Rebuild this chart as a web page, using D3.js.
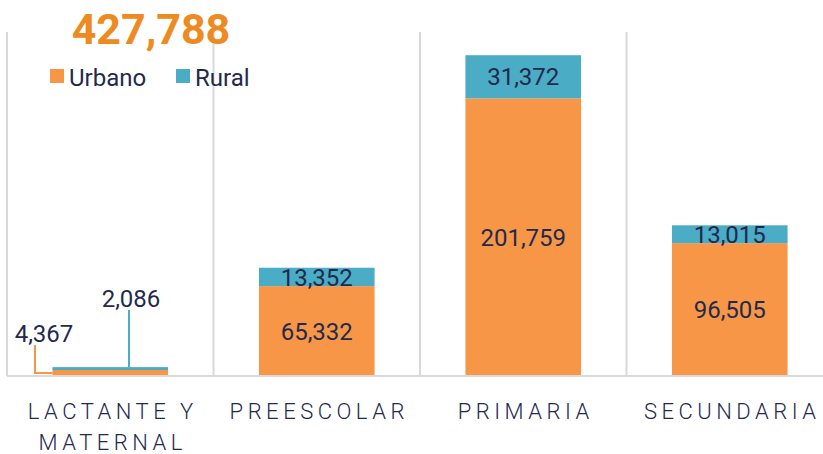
<!DOCTYPE html>
<head>
  <meta charset="utf-8">
  <title>Matrícula por nivel</title>
  <script src="https://d3js.org/d3.v7.min.js"></script>
  <style>
    body { margin: 0; background: #fff; }
    text { font-family: Roboto, "Noto Sans", sans-serif; }
  </style>
</head>
<body>
  <div id="chart"></div>
  <script>
    // Daten
    var categories = ['LACTANTE Y MATERNAL', 'PREESCOLAR', 'PRIMARIA', 'SECUNDARIA'];
    var categoryLines = [['LACTANTE Y', 'MATERNAL'], ['PREESCOLAR'], ['PRIMARIA'], ['SECUNDARIA']];
    var urbano = [4367, 65332, 201759, 96505];
    var rural = [2086, 13352, 31372, 13015];
    var seriesNames = ['Urbano', 'Rural'];
    var colors = ['#F79646', '#4BACC6'];
    var total = '427,788';

    var width = 823, height = 454;
    var textColor = '#1F2A4E';

    var svg = d3.select('#chart').append('svg')
      .attr('width', width).attr('height', height);

    var xScale = d3.scaleBand()
      .domain(categories)
      .range([7, 833])
      .paddingInner(0)
      .paddingOuter(0);
    var barW = xScale.bandwidth() * 0.56;

    var yScale = d3.scaleLinear()
      .domain([0, 250000])
      .range([376, 32]);

    // vertikale Gitterlinien
    svg.selectAll('line.grid')
      .data(categories)
      .enter().append('line')
        .attr('class', 'grid')
        .attr('x1', function(d) { return xScale(d); })
        .attr('x2', function(d) { return xScale(d); })
        .attr('y1', yScale.range()[1])
        .attr('y2', yScale(0))
        .attr('stroke', '#D9D9D9')
        .attr('stroke-width', 2);

    // Stapel
    var rows = categories.map(function(c, i) { return { cat: c, Urbano: urbano[i], Rural: rural[i] }; });
    var stack = d3.stack().keys(seriesNames)(rows);

    stack.forEach(function(layer, li) {
      svg.append('g').selectAll('rect')
        .data(layer)
        .enter().append('rect')
          .attr('x', function(d) { return xScale(d.data.cat) + (xScale.bandwidth() - barW) / 2; })
          .attr('y', function(d) { return yScale(d[1]); })
          .attr('width', barW)
          .attr('height', function(d) { return yScale(d[0]) - yScale(d[1]); })
          .attr('fill', colors[li]);
    });

    // Grundlinie
    svg.append('line')
      .attr('x1', 7).attr('x2', width)
      .attr('y1', yScale(0)).attr('y2', yScale(0))
      .attr('stroke', '#D9D9D9').attr('stroke-width', 2);

    // Werte-Labels
    var fmt = d3.format(',');
    function label(x, y) {
      return svg.append('text').attr('x', x).attr('y', y)
        .attr('text-anchor', 'middle').attr('font-size', 24)
        .attr('fill', textColor);
    }
    stack.forEach(function(layer, li) {
      layer.forEach(function(d, i) {
        var cx = xScale(d.data.cat) + xScale.bandwidth() / 2;
        var x0 = cx - barW / 2;
        var v = d[1] - d[0];
        if (i === 0) {
          // kleine Balken: Labels mit Linien
          if (li === 0) {
            svg.append('polyline')
              .attr('points', [[35, 345], [35, yScale((d[0] + d[1]) / 2)], [x0, yScale((d[0] + d[1]) / 2)]].join(' '))
              .attr('fill', 'none').attr('stroke', colors[li]).attr('stroke-width', 2);
            label(44, 342).text(fmt(v));
          } else {
            svg.append('line')
              .attr('x1', 129).attr('x2', 129)
              .attr('y1', 310).attr('y2', yScale(d[1]))
              .attr('stroke', colors[li]).attr('stroke-width', 2);
            label(131, 307).text(fmt(v));
          }
          return;
        }
        label(cx, (yScale(d[0]) + yScale(d[1])) / 2)
          .attr('dy', '0.36em')
          .text(fmt(v));
      });
    });

    // Kategorien
    categoryLines.forEach(function(lines, i) {
      var cx = xScale(categories[i]) + xScale.bandwidth() / 2;
      var t = svg.append('text')
        .attr('text-anchor', 'middle')
        .attr('font-size', 22)
        .attr('font-weight', 300)
        .attr('letter-spacing', 4.5)
        .attr('fill', textColor);
      lines.forEach(function(l, j) {
        t.append('tspan').attr('x', cx + 2.5).attr('y', 419 + j * 31).text(l);
      });
    });

    // Summe
    svg.append('text')
      .attr('x', 151).attr('y', 44)
      .attr('text-anchor', 'middle')
      .attr('font-size', 43).attr('font-weight', 'bold')
      .attr('fill', '#EE8A22')
      .text(total);

    // Legende
    var legX = [50, 176];
    seriesNames.forEach(function(s, i) {
      svg.append('rect').attr('x', legX[i]).attr('y', 69).attr('width', 14).attr('height', 14).attr('fill', colors[i]);
      svg.append('text').attr('x', legX[i] + 19).attr('y', 86)
        .attr('font-size', 24).attr('fill', textColor).text(s);
    });
  </script>
</body>
